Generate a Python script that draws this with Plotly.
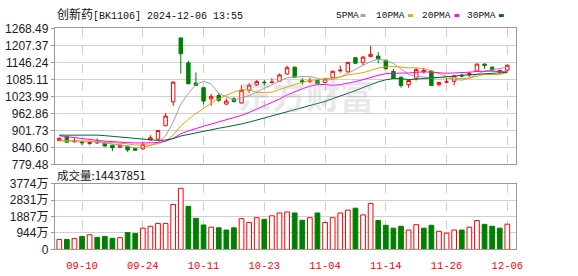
import plotly.graph_objects as go
import pandas as pd

# ---------------- data ----------------
dates = ["09-05", "09-06", "09-09", "09-10", "09-11", "09-12", "09-13", "09-18", "09-19", "09-20",
         "09-23", "09-24", "09-25", "09-26", "09-27", "09-30", "10-08", "10-09", "10-10", "10-11",
         "10-14", "10-15", "10-16", "10-17", "10-18", "10-21", "10-22", "10-23", "10-24", "10-25",
         "10-28", "10-29", "10-30", "10-31", "11-01", "11-04", "11-05", "11-06", "11-07", "11-08",
         "11-11", "11-12", "11-13", "11-14", "11-15", "11-18", "11-19", "11-20", "11-21", "11-22",
         "11-25", "11-26", "11-27", "11-28", "11-29", "12-02", "12-03", "12-04", "12-05", "12-06"]

open_ = [865, 879, 860, 861, 854, 862, 856, 848, 841, 845,
         836, 835, 867, 870, 918, 1004, 1234, 1144, 1072, 1055,
         1015, 1027, 996, 1015, 1000, 1046, 1065, 1075, 1073, 1078,
         1104, 1129, 1080, 1078, 1081, 1074, 1091, 1116, 1112, 1163,
         1146, 1167, 1169, 1154, 1114, 1093, 1066, 1089, 1112, 1115,
         1066, 1075, 1078, 1100, 1101, 1115, 1140, 1129, 1112, 1118]
high = [876, 880, 873, 863, 860, 873, 857, 850, 851, 846,
        837, 858, 884, 903, 964, 1078, 1235, 1152, 1110, 1057,
        1032, 1036, 1017, 1021, 1064, 1072, 1083, 1083, 1089, 1106,
        1135, 1131, 1089, 1091, 1083, 1089, 1116, 1135, 1148, 1165,
        1169, 1206, 1183, 1156, 1123, 1095, 1083, 1125, 1127, 1117,
        1076, 1089, 1100, 1105, 1112, 1142, 1142, 1131, 1120, 1138]
low = [863, 857, 858, 847, 850, 854, 843, 827, 838, 824,
       829, 832, 866, 868, 917, 990, 1106, 1068, 1061, 995,
       990, 1004, 993, 1002, 998, 1036, 1061, 1063, 1072, 1076,
       1102, 1092, 1066, 1072, 1067, 1072, 1089, 1109, 1110, 1141,
       1135, 1165, 1143, 1121, 1087, 1055, 1055, 1081, 1106, 1061,
       1060, 1074, 1063, 1092, 1094, 1113, 1123, 1116, 1106, 1116]
close = [873, 859, 864, 857, 858, 856, 845, 839, 848, 831,
         830, 850, 875, 901, 953, 1075, 1177, 1069, 1063, 1007,
         1024, 1010, 1007, 1005, 1046, 1064, 1077, 1073, 1075, 1101,
         1127, 1093, 1076, 1080, 1069, 1087, 1114, 1118, 1146, 1143,
         1165, 1175, 1159, 1123, 1089, 1063, 1081, 1120, 1117, 1063,
         1074, 1076, 1098, 1097, 1106, 1140, 1135, 1118, 1117, 1136]
# closes of the 29 sessions before the window (estimated from where the MA lines start)
prior_close = [855, 850, 858, 862, 860, 905, 918, 925, 930, 922,
               935, 930, 926, 920, 912, 900, 888, 875, 862, 852,
               858, 862, 868, 866, 864, 860, 862, 865, 862]
# volume in 万
volume = [563, 563, 617, 744, 835, 690, 744, 635, 672, 962,
          908, 1216, 1325, 1488, 1488, 2577, 3503, 2468, 1779, 1398,
          1271, 1234, 1107, 1234, 1761, 1543, 1815, 1724, 1924, 2087,
          2142, 2087, 1670, 1815, 2087, 1543, 1815, 2087, 2251, 2360,
          1978, 2632, 1652, 1380, 1216, 1325, 1107, 1416, 1216, 1380,
          1035, 926, 1107, 1107, 1271, 1652, 1434, 1325, 1216, 1444]

price_ticks = ["779.48", "840.60", "901.73", "962.86", "1023.99", "1085.11", "1146.24", "1207.37", "1268.49"]
vol_ticks = [0, 944, 1887, 2831, 3774]
vol_tick_text = ["0", "944万", "1887万", "2831万", "3774万"]
date_ticks = ["09-10", "09-24", "10-11", "10-23", "11-04", "11-14", "11-26", "12-06"]

ma_periods = [5, 10, 20, 30]
ma_names = ["5PMA", "10PMA", "20PMA", "30PMA"]
ma_colors = ["#a0a0a0", "#f0a000", "#ff00ff", "#006633"]

title_text = '<span style="font-size:12px">创新药</span>[BK1106] 2024-12-06 13:55'
vol_label = "成交量:14437851"
watermark = "东方财富"

RED = "#ff0000"
GREEN = "#008000"

# ---------------- figure ----------------
W, H = 578, 276
fig = go.Figure()

fig.add_trace(go.Candlestick(
    x=dates, open=open_, high=high, low=low, close=close,
    increasing=dict(line=dict(color=RED, width=1), fillcolor="white"),
    decreasing=dict(line=dict(color=GREEN, width=1), fillcolor=GREEN),
    whiskerwidth=0, showlegend=False, hoverinfo="skip", xaxis="x", yaxis="y"))

s = pd.Series(prior_close + close, dtype=float)
n0 = len(prior_close)
for p, c in zip(ma_periods, ma_colors):
    ma = s.rolling(p).mean().iloc[n0:].tolist()
    fig.add_trace(go.Scatter(x=dates, y=ma, mode="lines", line=dict(color=c, width=1),
                             showlegend=False, hoverinfo="skip", xaxis="x", yaxis="y"))

prev = [prior_close[-1]] + close[:-1]
up = [c >= pc for c, pc in zip(close, prev)]
fig.add_trace(go.Bar(
    x=dates, y=volume,
    marker=dict(color=["white" if u else GREEN for u in up],
                line=dict(color=[RED if u else GREEN for u in up], width=1)),
    showlegend=False, hoverinfo="skip", xaxis="x2", yaxis="y2"))

xdom = [55.5 / W, 522 / W]
def py(px):
    return 1 - px / H

grid = "#d0d0d0"
frame = "#999999"
xr = [-0.585, 60.1]
fig.update_layout(
    width=W, height=H, autosize=False,
    margin=dict(l=0, r=0, t=0, b=0),
    paper_bgcolor="white", plot_bgcolor="white",
    boxgap=0.35, bargap=0.38,
    xaxis=dict(domain=xdom, type="category", range=xr, anchor="y",
               tickmode="array", tickvals=date_ticks, showticklabels=False,
               showgrid=True, gridcolor=grid, griddash="dash", gridwidth=1,
               showline=True, mirror=True, linecolor=frame, linewidth=1,
               ticks="", zeroline=False, rangeslider=dict(visible=False), fixedrange=True),
    yaxis=dict(domain=[py(165.7), py(22.5)], range=[float(price_ticks[0]), float(price_ticks[-1])],
               tickmode="array", tickvals=[float(t) for t in price_ticks], ticktext=price_ticks,
               showgrid=True, gridcolor=grid, gridwidth=1, zeroline=False,
               showline=True, mirror=True, linecolor=frame, linewidth=1,
               ticks="outside", ticklen=3, tickcolor=frame,
               tickfont=dict(family="Liberation Sans, Arial", size=12, color="#1a1a2a"),
               anchor="x"),
    xaxis2=dict(domain=xdom, type="category", range=xr, anchor="y2",
                tickmode="array", tickvals=date_ticks, showticklabels=True,
                tickfont=dict(family="Liberation Mono, monospace", size=10.5, color=RED),
                ticklabelstandoff=6,
                showgrid=True, gridcolor=grid, griddash="dash", gridwidth=1,
                showline=True, mirror=True, linecolor=frame, linewidth=1,
                ticks="", zeroline=False, fixedrange=True),
    yaxis2=dict(domain=[py(255.3), py(186)], range=[0, vol_ticks[-1]],
                tickmode="array", tickvals=vol_ticks, ticktext=vol_tick_text,
                showgrid=True, gridcolor=grid, gridwidth=1, zeroline=False,
                showline=True, mirror=True, linecolor=frame, linewidth=1,
                ticks="outside", ticklen=3, tickcolor=frame,
                tickfont=dict(family="Liberation Sans, Noto Sans CJK SC", size=12, color="#1a1a2a"),
                anchor="x2"),
)

ann = []
ann.append(dict(text=title_text, x=56 / W, y=py(8), xref="paper", yref="paper",
                xanchor="left", yanchor="middle", showarrow=False,
                font=dict(family="Liberation Mono, Noto Sans CJK SC", size=10, color="#111111")))
ann.append(dict(text=vol_label, x=56 / W, y=py(177), xref="paper", yref="paper",
                xanchor="left", yanchor="middle", showarrow=False,
                font=dict(family="Noto Sans CJK SC", size=11.5, color="#111111")))
ann.append(dict(text="<b>" + watermark + "</b>", x=310 / W, y=py(92), xref="paper", yref="paper",
                xanchor="center", yanchor="middle", showarrow=False,
                font=dict(family="Noto Sans CJK SC", size=34, color="rgba(175,175,185,0.28)")))

legend_x = [338, 379, 425, 471]
swatch_x = [365, 413, 460, 505]
shapes = []
for name, c, lx, sx in zip(ma_names, ma_colors, legend_x, swatch_x):
    ann.append(dict(text=name, x=lx / W, y=py(8.5), xref="paper", yref="paper",
                    xanchor="left", yanchor="middle", showarrow=False,
                    font=dict(family="Liberation Mono, monospace", size=9.5, color="#111111")))
    shapes.append(dict(type="rect", xref="paper", yref="paper",
                       x0=sx / W, x1=(sx + 5) / W, y0=py(10.5), y1=py(7.5),
                       fillcolor=c, line=dict(width=0)))

fig.update_layout(annotations=ann, shapes=shapes)
fig.write_html("out.html")
